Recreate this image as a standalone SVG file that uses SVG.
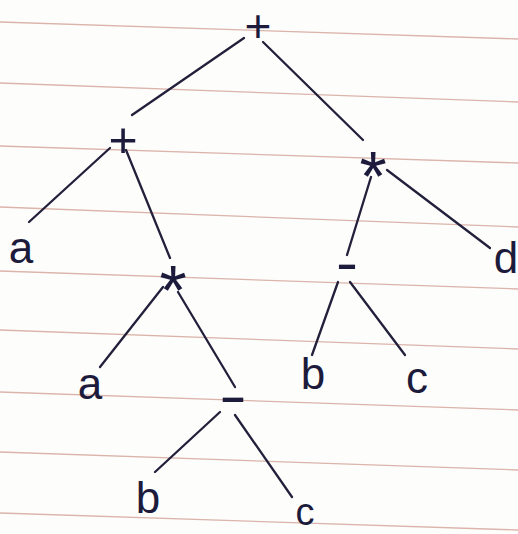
<svg xmlns="http://www.w3.org/2000/svg" width="518" height="534" viewBox="0 0 518 534">
<style>
.paper{fill:#fdfdfc}
.rule{stroke:#dbb4ab;stroke-width:1.3;fill:none}
.edge{stroke:#22203a;stroke-width:2.3;stroke-linecap:round;fill:none}
.t{font-family:"Liberation Sans",Arial,sans-serif;fill:#1d1b3c;text-anchor:middle}
.op{font-size:50px}
.root{font-size:46px}
.star{font-size:70px}
.dash{font-size:56px}
.lt{font-size:44px}
.sm{font-size:38px}
</style>
<rect class="paper" x="0" y="0" width="518" height="534"/>
<g id="rules">
<line class="rule" x1="0" y1="22" x2="518" y2="39"/>
<line class="rule" x1="0" y1="83" x2="518" y2="102"/>
<line class="rule" x1="0" y1="146" x2="518" y2="163"/>
<line class="rule" x1="0" y1="207" x2="518" y2="227"/>
<line class="rule" x1="0" y1="271" x2="518" y2="289"/>
<line class="rule" x1="0" y1="330" x2="518" y2="349"/>
<line class="rule" x1="0" y1="392" x2="518" y2="410"/>
<line class="rule" x1="0" y1="452" x2="518" y2="470"/>
<line class="rule" x1="0" y1="513" x2="518" y2="530"/>
</g>
<g id="connectors">
<line class="edge" x1="244" y1="38" x2="132" y2="115"/>
<line class="edge" x1="263" y1="42" x2="363" y2="140"/>
<line class="edge" x1="110" y1="148" x2="29" y2="222"/>
<line class="edge" x1="126" y1="150" x2="170" y2="258"/>
<line class="edge" x1="371" y1="177" x2="347" y2="255"/>
<line class="edge" x1="387" y1="170" x2="490" y2="248"/>
<line class="edge" x1="163" y1="287" x2="100" y2="367"/>
<line class="edge" x1="178" y1="292" x2="235" y2="387"/>
<line class="edge" x1="220" y1="412" x2="155" y2="472"/>
<line class="edge" x1="235" y1="415" x2="292" y2="497"/>
<line class="edge" x1="338" y1="282" x2="312" y2="355"/>
<line class="edge" x1="350" y1="282" x2="405" y2="355"/>
</g>
<g id="n-root"><text class="t root" x="258" y="42">+</text></g>
<g id="n-plus"><text class="t op" x="123" y="157">+</text></g>
<g id="n-mul-right"><text class="t star" x="373" y="201">*</text></g>
<g id="n-a1"><text class="t lt" x="21" y="263">a</text></g>
<g id="n-mul-left"><text class="t star" x="173" y="315">*</text></g>
<g id="n-minus-right"><text class="t dash" x="347" y="282" textLength="22" lengthAdjust="spacingAndGlyphs">-</text></g>
<g id="n-d"><text class="t lt" x="506" y="273">d</text></g>
<g id="n-a2"><text class="t lt" x="90" y="399">a</text></g>
<g id="n-minus-left"><text class="t dash" x="233" y="415" textLength="28" lengthAdjust="spacingAndGlyphs">-</text></g>
<g id="n-b-right"><text class="t lt" x="313" y="389">b</text></g>
<g id="n-c-right"><text class="t lt" x="417" y="393">c</text></g>
<g id="n-b-left"><text class="t lt" x="148" y="513">b</text></g>
<g id="n-c-left"><text class="t sm" x="305" y="525">c</text></g>
</svg>
